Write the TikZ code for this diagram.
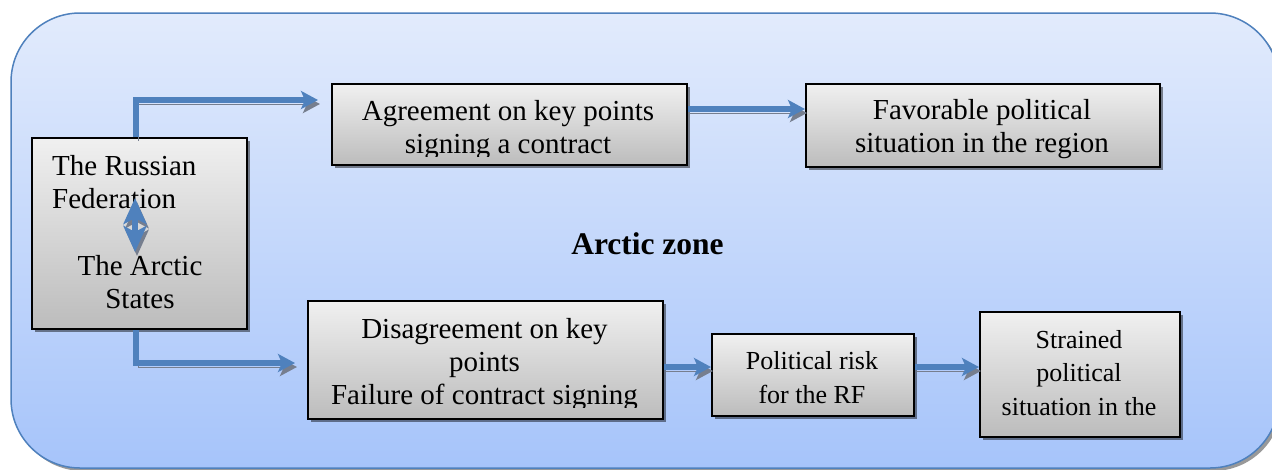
\documentclass[tikz,border=0pt]{standalone}
\usepackage{fontspec}
\setmainfont{Liberation Serif}
\usetikzlibrary{arrows.meta,shadows}
\definecolor{zonetop}{RGB}{226,235,252}
\definecolor{zonebot}{RGB}{166,196,250}
\definecolor{zoneline}{RGB}{79,129,189}
\definecolor{flowblue}{RGB}{79,129,189}
\definecolor{flowgray}{RGB}{118,126,142}
\definecolor{boxtop}{RGB}{240,240,240}
\definecolor{boxbot}{RGB}{188,188,188}
\tikzset{
  fbox/.style={draw=black, line width=2pt, top color=boxtop, bottom color=boxbot, inner sep=0pt, anchor=north west,
    drop shadow={shadow xshift=3pt, shadow yshift=-3pt, fill=black, opacity=0.45}},
  ftext/.style={inner sep=0pt, align=center, font=\fontsize{29}{33}\selectfont},
  stext/.style={inner sep=0pt, align=center, font=\fontsize{26}{34}\selectfont},
  flow/.style={draw=flowblue, line width=6pt, -{Stealth[length=17pt,width=18pt,inset=4pt]},
    preaction={draw=flowgray, transform canvas={xshift=2pt,yshift=-4pt}}},
}
\begin{document}
\begin{tikzpicture}[x=1pt,y=-1pt]
\clip (0,0) rectangle (1272,469);
\fill[white] (0,0) rectangle (1272,469);
\draw[draw=zoneline, line width=1.5pt, rounded corners=69pt, top color=zonetop, bottom color=zonebot,
  drop shadow={shadow xshift=3pt, shadow yshift=-3pt, fill=gray, opacity=0.8}] (11,13) rectangle (1279,468);
\node[font=\bfseries\fontsize{31.5}{36}\selectfont, anchor=base, inner sep=0pt] (zone) at (647.5,254) {Arctic zone};
\node[fbox, minimum width=215pt, minimum height=191pt] (rf) at (31,137) {};
\node[fbox, minimum width=355pt, minimum height=81pt] (agree) at (331,83) {};
\node[fbox, minimum width=354pt, minimum height=83pt] (fav) at (805,83) {};
\node[fbox, minimum width=355pt, minimum height=118pt] (disagree) at (307,300) {};
\node[fbox, minimum width=202pt, minimum height=82pt] (risk) at (711,333) {};
\node[fbox, minimum width=200pt, minimum height=125pt] (strained) at (979,311) {};
\node[ftext, anchor=base west, align=left] (rftxt) at (52,208) {The Russian\\Federation};
\node[ftext, anchor=base] (arctictxt) at (140,308) {The Arctic\\States};
\begin{scope}
\clip (agree.north west) rectangle ([yshift=10pt]agree.south east);
\node[ftext, anchor=base] (agreetxt) at (508,153) {Agreement on key points\\signing a contract};
\end{scope}
\begin{scope}
\clip (fav.north west) rectangle ([yshift=3pt]fav.south east);
\node[ftext, anchor=base] (favtxt) at (982,152) {Favorable political\\situation in the region};
\end{scope}
\begin{scope}
\clip (disagree.north west) rectangle ([yshift=13pt]disagree.south east);
\node[ftext, anchor=base] (disagreetxt) at (484.5,404) {Disagreement on key\\points\\Failure of contract signing};
\end{scope}
\node[stext, anchor=base] (risktxt) at (812,403) {Political risk\\for the RF};
\node[stext, anchor=base, font=\fontsize{26}{33.5}\selectfont] (strainedtxt) at (1079,415) {Strained\\political\\situation in the};
\coordinate (upend) at (318,100);
\coordinate (downend) at (295,363);
\coordinate (dbltop) at (135,198);
\coordinate (dblbot) at (135,252);
\draw[flow] ([xshift=-3.5pt]rf.north) |- (upend);
\draw[flow] ([xshift=-3.5pt]rf.south) |- (downend);
\draw[flow] ([yshift=15.5pt]agree.east) -- ([yshift=15.5pt]agree.east -| fav.west);
\draw[flow] ([yshift=-7pt]disagree.east) -- ([yshift=-7pt]disagree.east -| risk.west);
\draw[flow] ([yshift=8pt]risk.east) -- ([yshift=8pt]risk.east -| strained.west);
\draw[flow, {Stealth[length=26pt,width=23pt,inset=6pt]}-{Stealth[length=26pt,width=23pt,inset=6pt]}] (dbltop) -- (dblbot);
\end{tikzpicture}
\end{document}
